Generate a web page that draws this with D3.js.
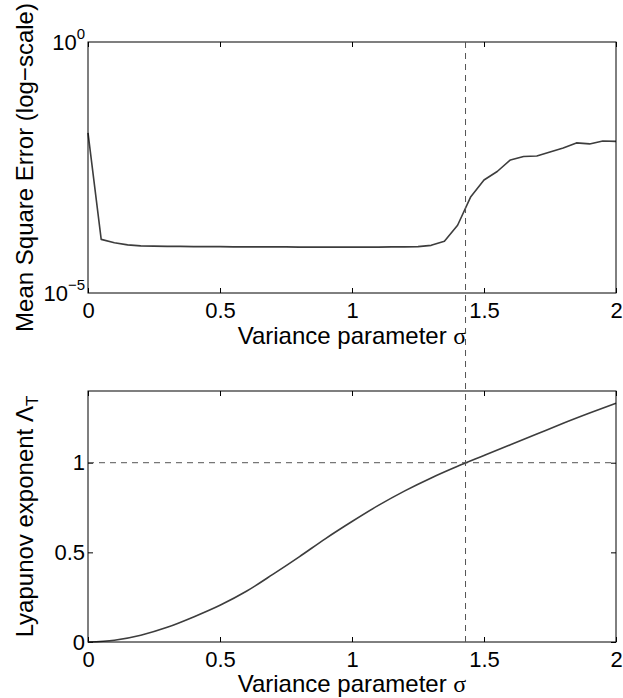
<!DOCTYPE html>
<html>
<head>
<meta charset="utf-8">
<script src="https://cdn.jsdelivr.net/npm/d3@7"></script>
<style>
  body { margin: 0; background: #fff; }
  svg { display: block; font-family: "Liberation Sans", Arial, Helvetica, sans-serif; }
  .tick line { stroke: #000; }
</style>
</head>
<body>
<div id="chart"></div>
<script>
// sigma grid of the MSE run
var sigmaMse = [0, 0.05, 0.1, 0.15, 0.2, 0.25, 0.3, 0.35, 0.4, 0.45, 0.5, 0.55, 0.6, 0.65,
  0.7, 0.75, 0.8, 0.85, 0.9, 0.95, 1.0, 1.05, 1.1, 1.15, 1.2, 1.25, 1.3, 1.35, 1.4,
  1.45, 1.5, 1.55, 1.6, 1.65, 1.7, 1.75, 1.8, 1.85, 1.9, 1.95, 2.0];
var mseValues = [1.55e-2, 1.17e-4, 1.0e-4, 9.1e-5, 8.7e-5, 8.6e-5, 8.5e-5, 8.5e-5, 8.4e-5,
  8.4e-5, 8.4e-5, 8.3e-5, 8.3e-5, 8.3e-5, 8.3e-5, 8.3e-5, 8.2e-5, 8.2e-5, 8.2e-5, 8.2e-5,
  8.2e-5, 8.2e-5, 8.2e-5, 8.3e-5, 8.3e-5, 8.4e-5, 8.9e-5, 1.07e-4, 2.24e-4, 8.3e-4,
  1.78e-3, 2.63e-3, 4.47e-3, 5.25e-3, 5.37e-3, 6.46e-3, 7.76e-3, 9.77e-3, 9.33e-3,
  1.07e-2, 1.05e-2];

// Lyapunov exponent curve
var sigmaLyap = [0, 0.1, 0.2, 0.3, 0.4, 0.5, 0.6, 0.7, 0.8, 0.9, 1.0, 1.1, 1.2, 1.3, 1.4,
  1.5, 1.6, 1.7, 1.8, 1.9, 2.0];
var lyapValues = [0, 0.01, 0.038, 0.082, 0.14, 0.205, 0.283, 0.377, 0.475, 0.577, 0.672,
  0.762, 0.843, 0.915, 0.98, 1.04, 1.1, 1.16, 1.22, 1.277, 1.332];

var xTicks = [0, 0.5, 1, 1.5, 2];
var xTickLabels = ["0", "0.5", "1", "1.5", "2"];
var mseTicks = [1e-5, 1];
var mseTickExp = ["\u22125", "0"];
var lyapTicks = [0, 0.5, 1];
var lyapTickLabels = ["0", "0.5", "1"];
var sigmaCritical = 1.43;
var lyapThreshold = 1;

var width = 623, height = 698;
var left = 88, right = 616;
var top1 = 42, bottom1 = 293;
var top2 = 391, bottom2 = 642;

var svg = d3.select("#chart").append("svg")
  .attr("width", width)
  .attr("height", height);

svg.append("rect").attr("width", width).attr("height", height).attr("fill", "#fff");

var x = d3.scaleLinear().domain([0, 2]).range([left, right]);
var yMse = d3.scaleLog().domain([1e-5, 1]).range([bottom1, top1]);
var yLyap = d3.scaleLinear().domain([0, 1.4]).range([bottom2, top2]);

var tickFont = 22, labelFont = 24;

function xAxes(yTop, yBottom) {
  var gb = svg.append("g")
    .attr("transform", "translate(0," + yBottom + ")")
    .call(d3.axisBottom(x).tickValues(xTicks).tickSize(-5).tickPadding(9)
      .tickFormat(function(d, i) { return xTickLabels[i]; }));
  gb.select(".domain").remove();
  gb.selectAll("text").attr("font-size", tickFont).attr("font-family", null).attr("fill", "#000");
  gb.attr("font-family", null);

  var gt = svg.append("g")
    .attr("transform", "translate(0," + yTop + ")")
    .call(d3.axisTop(x).tickValues(xTicks).tickSize(-5).tickFormat(""));
  gt.select(".domain").remove();
}

function frame(yTop, yBottom) {
  svg.append("rect")
    .attr("x", left).attr("y", yTop)
    .attr("width", right - left).attr("height", yBottom - yTop)
    .attr("fill", "none").attr("stroke", "#000").attr("stroke-width", 1);
}

function xLabel(y) {
  var t = svg.append("text")
    .attr("x", (left + right) / 2).attr("y", y)
    .attr("text-anchor", "middle")
    .attr("font-size", labelFont);
  t.append("tspan").text("Variance parameter ");
  t.append("tspan").attr("font-family", "'Liberation Serif', 'DejaVu Serif', serif").text("\u03c3");
}

// ---------- top panel: MSE (log scale) ----------
var gy1 = svg.append("g")
  .attr("transform", "translate(" + left + ",0)")
  .call(d3.axisLeft(yMse).tickValues(mseTicks).tickSize(0).tickPadding(3).tickFormat(""));
gy1.select(".domain").remove();
gy1.selectAll(".tick").each(function(d, i) {
  var t = d3.select(this).select("text")
    .attr("font-size", tickFont).attr("font-family", null).attr("fill", "#000")
    .attr("dy", "0.35em");
  t.append("tspan").text("10");
  t.append("tspan").attr("font-size", 15).attr("dy", "-0.75em").text(mseTickExp[i]);
});

xAxes(top1, bottom1);

svg.append("path")
  .datum(sigmaMse.map(function(s, i) { return [s, mseValues[i]]; }))
  .attr("fill", "none")
  .attr("stroke", "#3d3d3d")
  .attr("stroke-width", 1.6)
  .attr("stroke-linejoin", "round")
  .attr("d", d3.line()
    .x(function(d) { return x(d[0]); })
    .y(function(d) { return yMse(d[1]); }));

frame(top1, bottom1);
xLabel(bottom1 + 51);

svg.append("text")
  .attr("transform", "translate(33," + (top1 + bottom1) / 2 + ") rotate(-90)")
  .attr("text-anchor", "middle")
  .attr("font-size", labelFont)
  .text("Mean Square Error (log\u2212scale)");

// ---------- bottom panel: Lyapunov exponent ----------
var gy2 = svg.append("g")
  .attr("transform", "translate(" + left + ",0)")
  .call(d3.axisLeft(yLyap).tickValues(lyapTicks).tickSize(-5).tickPadding(3)
    .tickFormat(function(d, i) { return lyapTickLabels[i]; }));
gy2.select(".domain").remove();
gy2.attr("font-family", null);
gy2.selectAll("text").attr("font-size", tickFont).attr("fill", "#000");

var gy2r = svg.append("g")
  .attr("transform", "translate(" + right + ",0)")
  .call(d3.axisRight(yLyap).tickValues(lyapTicks).tickSize(-5).tickFormat(""));
gy2r.select(".domain").remove();

xAxes(top2, bottom2);

svg.append("line")
  .attr("x1", x(0)).attr("x2", x(2))
  .attr("y1", yLyap(lyapThreshold)).attr("y2", yLyap(lyapThreshold))
  .attr("stroke", "#555").attr("stroke-width", 1)
  .attr("stroke-dasharray", "6,5");

svg.append("path")
  .datum(sigmaLyap.map(function(s, i) { return [s, lyapValues[i]]; }))
  .attr("fill", "none")
  .attr("stroke", "#3d3d3d")
  .attr("stroke-width", 1.6)
  .attr("d", d3.line()
    .curve(d3.curveMonotoneX)
    .x(function(d) { return x(d[0]); })
    .y(function(d) { return yLyap(d[1]); }));

frame(top2, bottom2);
xLabel(bottom2 + 50);

var yl2 = svg.append("text")
  .attr("transform", "translate(33," + (top2 + bottom2) / 2 + ") rotate(-90)")
  .attr("text-anchor", "middle")
  .attr("font-size", labelFont);
yl2.append("tspan").text("Lyapunov exponent \u039b");
yl2.append("tspan").attr("font-size", 17).attr("dy", "0.3em").text("T");

// vertical dashed line at the critical sigma, through both panels
svg.append("line")
  .attr("x1", x(sigmaCritical)).attr("x2", x(sigmaCritical))
  .attr("y1", top1).attr("y2", bottom2)
  .attr("stroke", "#555").attr("stroke-width", 1)
  .attr("stroke-dasharray", "6,5");
</script>
</body>
</html>
